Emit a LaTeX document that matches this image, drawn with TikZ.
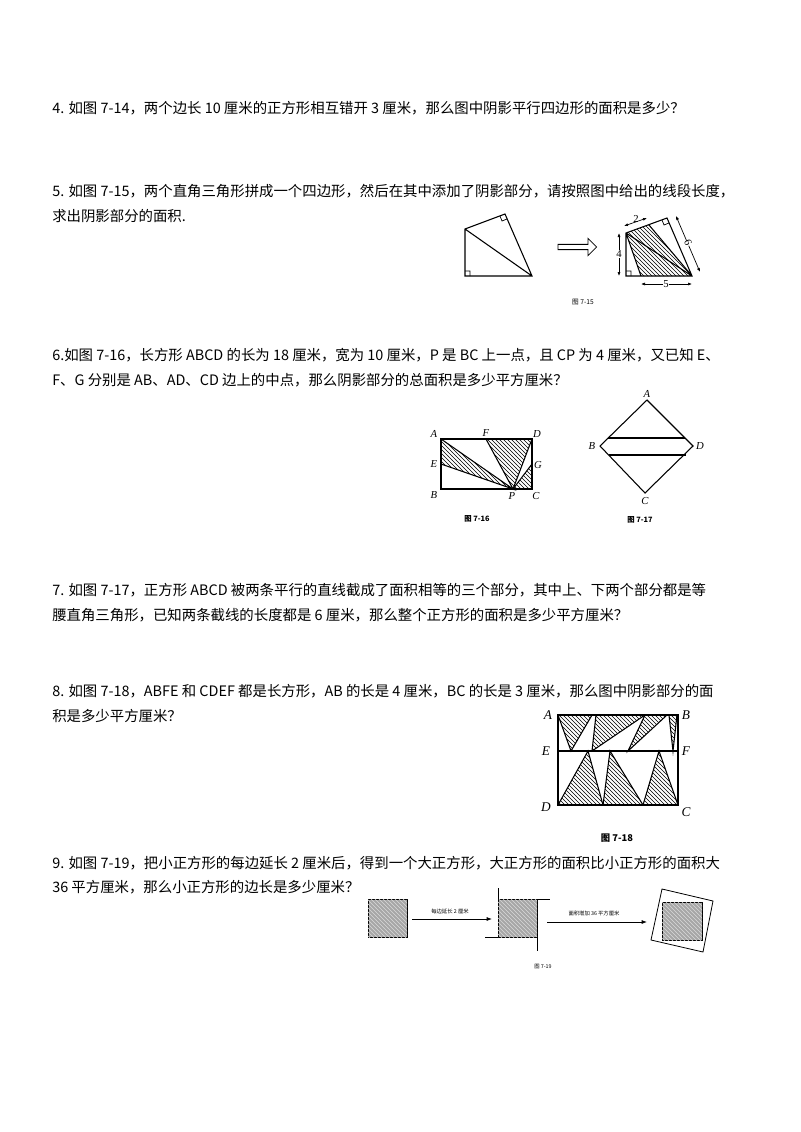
\documentclass[tikz,border=0pt]{standalone}
\usepackage{fontspec}
\setmainfont{Noto Sans CJK SC}
\newfontfamily\lserif{Liberation Serif}
\usetikzlibrary{patterns,arrows.meta,shapes.arrows}
\begin{document}
\begin{tikzpicture}[x=0.75pt,y=-0.75pt,
  txt/.style={anchor=west,inner sep=0,font=\fontsize{10.8}{12}\selectfont},
  capt/.style={inner sep=0,font=\fontsize{5}{6}\selectfont},
  lab/.style={inner sep=0,font=\fontsize{8}{9}\lserif\itshape},
  ln/.style={line width=0.8pt},
  hat/.style={pattern=north west lines,draw=black,line width=0.8pt},
  dim/.style={line width=0.5pt,{Latex[length=3pt]}-{Latex[length=3pt]}}]
\useasboundingbox (0,0) rectangle (800,1132);
\node[txt] (t4) at (52,108) {4. 如图 7-14，两个边长 10 厘米的正方形相互错开 3 厘米，那么图中阴影平行四边形的面积是多少？};
\node[txt] (t5a) at (52,191) {5. 如图 7-15，两个直角三角形拼成一个四边形，然后在其中添加了阴影部分，请按照图中给出的线段长度，};
\node[txt] (t5b) at (52,216) {求出阴影部分的面积.};
\node[txt] (t6a) at (52,355) {6.如图 7-16，长方形 ABCD 的长为 18 厘米，宽为 10 厘米，P 是 BC 上一点，且 CP 为 4 厘米，又已知 E、};
\node[txt] (t6b) at (52,380) {F、G 分别是 AB、AD、CD 边上的中点，那么阴影部分的总面积是多少平方厘米？};
\node[txt] (t7a) at (52,590) {7. 如图 7-17，正方形 ABCD 被两条平行的直线截成了面积相等的三个部分，其中上、下两个部分都是等};
\node[txt] (t7b) at (52,615) {腰直角三角形，已知两条截线的长度都是 6 厘米，那么整个正方形的面积是多少平方厘米？};
\node[txt] (t8a) at (52,691) {8. 如图 7-18，ABFE 和 CDEF 都是长方形，AB 的长是 4 厘米，BC 的长是 3 厘米，那么图中阴影部分的面};
\node[txt] (t8b) at (52,716) {积是多少平方厘米？};
\node[txt] (t9a) at (52,863) {9. 如图 7-19，把小正方形的每边延长 2 厘米后，得到一个大正方形，大正方形的面积比小正方形的面积大};
\node[txt] (t9b) at (52,887) {36 平方厘米，那么小正方形的边长是多少厘米？};

% Fig 7-15 left
\draw[ln] (465,229) -- (465,276) -- (532,276) -- (505,214) -- cycle (465,229) -- (532,276);
\draw[line width=0.5pt] (465,271) -- (470,271) -- (470,276) (500,216) -- (502,221) -- (507,219);
\node[single arrow,draw,line width=0.6pt,minimum height=29pt,minimum width=13pt,single arrow head extend=3pt,inner sep=1pt] (arr) at (576,247) {};
% right
\fill[pattern=north west lines] (626,233) -- (649,225) -- (692,276) -- (641,276) -- cycle;
\draw[ln] (626,233) -- (626,276) -- (692,276) -- (667,218) -- cycle (626,233) -- (692,276) (649,225) -- (692,276) (641,276) -- (626,233);
\draw[line width=0.5pt] (626,271) -- (631,271) -- (631,276) (662,220) -- (664,225) -- (669,223);
\draw[dim] (624,226) -- (647,218);
\node[lab,font=\fontsize{8}{8}\lserif] at (636,219) {2};
\draw[dim] (619,233) -- (619,276);
\node[lab,fill=white,font=\fontsize{8}{8}\lserif] at (619,254) {4};
\draw[dim] (676,216) -- (700,272);
\node[lab,fill=white,rotate=-67,font=\fontsize{8}{8}\lserif] at (688,243) {6};
\draw[dim] (641,284) -- (692,284);
\node[lab,fill=white,font=\fontsize{8}{8}\lserif] at (666,284) {5};
\node[capt] at (583,302) {图 7-15};

% Fig 7-16
\draw[hat] (441,439) -- (441,464) -- (513,489) -- cycle;
\draw[hat] (486,439) -- (532,439) -- (513,489) -- cycle;
\draw[hat] (532,464) -- (532,489) -- (513,489) -- cycle;
\draw[ln] (441,439) rectangle (532,489);
\node[lab] at (434,434) {A}; \node[lab] at (486,433) {F}; \node[lab] at (537,434) {D};
\node[lab] at (434,464) {E}; \node[lab] at (538,465) {G};
\node[lab] at (434,495) {B}; \node[lab] at (512,496) {P}; \node[lab] at (536,496) {C};
\node[capt,font=\fontsize{5.5}{6}\selectfont\bfseries] at (477,519) {图 7-16};

% Fig 7-17
\draw[ln] (647,400) -- (693,446) -- (645,493) -- (600,446) -- cycle;
\draw[ln] (608,438) -- (685,438) (609,455) -- (686,455);
\node[lab] at (647,394) {A}; \node[lab] at (592,446) {B};
\node[lab] at (700,446) {D}; \node[lab] at (645,501) {C};
\node[capt,font=\fontsize{5.5}{6}\selectfont\bfseries] at (640,520) {图 7-17};

% Fig 7-18
\draw[hat] (558,715) -- (592,715) -- (571,751) -- cycle;
\draw[hat] (596,715) -- (645,715) -- (592,751) -- cycle;
\draw[hat] (645,715) -- (667,715) -- (628,751) -- cycle;
\draw[hat] (669,715) -- (677,715) -- (673,751) -- cycle;
\draw[hat] (588,751) -- (603,805) -- (558,805) -- cycle;
\draw[hat] (610,751) -- (643,805) -- (603,805) -- cycle;
\draw[hat] (659,751) -- (678,805) -- (643,805) -- cycle;
\draw[line width=1pt] (558,715) rectangle (678,805) (558,751) -- (678,751);
\node[lab,font=\fontsize{10}{10}\lserif\itshape] at (548,715) {A};
\node[lab,font=\fontsize{10}{10}\lserif\itshape] at (686,715) {B};
\node[lab,font=\fontsize{10}{10}\lserif\itshape] at (546,751) {E};
\node[lab,font=\fontsize{10}{10}\lserif\itshape] at (686,751) {F};
\node[lab,font=\fontsize{10}{10}\lserif\itshape] at (546,807) {D};
\node[lab,font=\fontsize{10}{10}\lserif\itshape] at (686,812) {C};
\node[capt,font=\fontsize{7}{8}\selectfont\bfseries] at (617,838) {图 7-18};

% Fig 7-19
\tikzset{sq/.style={fill=gray!70,draw=black,line width=0.6pt,postaction={pattern=north west lines,pattern color=gray!30}}}
\draw[sq] (368,899) rectangle (407,937);
\draw[line width=0.6pt,-{Latex[length=4pt]}] (412,919) -- (492,919);
\node[capt,font=\fontsize{4}{5}\selectfont] at (450,911) {每边延长 2 厘米};
\draw[sq] (498,899) rectangle (537,937);
\draw[line width=0.6pt] (498,888) -- (498,899) (537,899) -- (550,899) (537,937) -- (537,951) (485,937) -- (498,937);
\draw[line width=0.6pt,-{Latex[length=4pt]}] (547,922) -- (647,922);
\node[capt,font=\fontsize{4}{5}\selectfont] at (594,913) {面积增加 36 平方厘米};
\draw[sq] (662,902) rectangle (702,940);
\draw[line width=0.6pt] (662,889) -- (713,901) -- (703,952) -- (651,940) -- cycle;
\node[capt,font=\fontsize{4}{5}\selectfont] at (543,967) {图 7-19};
\end{tikzpicture}
\end{document}
